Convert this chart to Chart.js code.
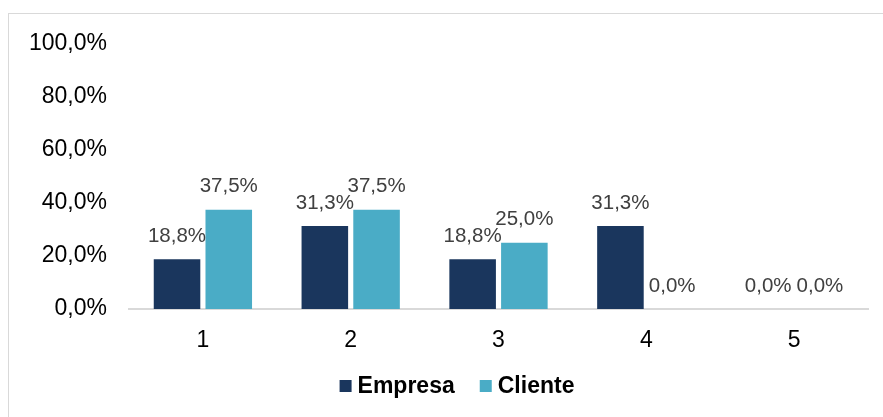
<!DOCTYPE html>
<html>
<head>
<meta charset="utf-8">
<script src="https://cdn.jsdelivr.net/npm/chart.js@4.4.1/dist/chart.umd.min.js"></script>
<style>
  html, body { margin: 0; padding: 0; background: #fff; overflow: hidden; }
  #wrap { position: relative; width: 883px; height: 417px; }
  #frame { position: absolute; left: 8px; top: 13px; width: 900px; height: 420px; border: 1px solid #d9d9d9; box-sizing: border-box; }
  canvas { position: absolute; left: 0; top: 0; }
</style>
</head>
<body>
<div id="wrap">
  <div id="frame"></div>
  <canvas id="chart" width="883" height="417"></canvas>
</div>
<script>
// 数据
const categorias = ['1', '2', '3', '4', '5'];
const empresa = [18.8, 31.3, 18.8, 31.3, 0.0];
const cliente = [37.5, 37.5, 25.0, 0.0, 0.0];
const yTicks = [0, 20, 40, 60, 80, 100];

const FONT = "'Liberation Sans', Arial, sans-serif";

function pct(v) {
  return v.toFixed(1).replace('.', ',') + '%';
}

// 柱顶数值标签
const valueLabels = {
  id: 'valueLabels',
  afterDatasetsDraw(chart) {
    const ctx = chart.ctx;
    ctx.save();
    ctx.font = '20.5px ' + FONT;
    ctx.fillStyle = '#404040';
    ctx.textAlign = 'center';
    ctx.textBaseline = 'middle';
    chart.data.datasets.forEach((ds, i) => {
      chart.getDatasetMeta(i).data.forEach((bar, j) => {
        ctx.fillText(pct(ds.data[j]), bar.x, bar.y - 23);
      });
    });
    ctx.restore();
  }
};

// 底部图例（居中于外框）
const bottomLegend = {
  id: 'bottomLegend',
  afterDraw(chart) {
    const ctx = chart.ctx;
    const box = 12, gapText = 6, gapItem = 25, cy = 386, center = 457;
    ctx.save();
    ctx.font = 'bold 23px ' + FONT;
    ctx.textBaseline = 'middle';
    const items = chart.data.datasets.map(ds => ({
      text: ds.label, color: ds.backgroundColor, w: ctx.measureText(ds.label).width
    }));
    const total = items.reduce((s, it) => s + box + gapText + it.w, 0) + gapItem * (items.length - 1);
    let x = center - total / 2;
    items.forEach(it => {
      ctx.fillStyle = it.color;
      ctx.fillRect(x, cy - box / 2, box, box);
      x += box + gapText;
      ctx.fillStyle = '#000';
      ctx.fillText(it.text, x, cy + 1);
      x += it.w + gapItem;
    });
    ctx.restore();
  }
};

new Chart(document.getElementById('chart').getContext('2d'), {
  type: 'bar',
  data: {
    labels: categorias,
    datasets: [
      { label: 'Empresa', data: empresa, backgroundColor: '#1a365d' },
      { label: 'Cliente', data: cliente, backgroundColor: '#4aacc6' }
    ]
  },
  options: {
    responsive: false,
    animation: false,
    events: [],
    layout: { padding: { top: 44, right: 15, left: 0, bottom: 58 } },
    datasets: {
      bar: { categoryPercentage: 0.7, barPercentage: 0.9 }
    },
    scales: {
      x: {
        grid: { display: false },
        border: { display: true, color: '#d9d9d9', width: 2 },
        ticks: { color: '#000', font: { family: FONT, size: 23 }, padding: 10 },
        afterFit: s => { s.height = 50; }
      },
      y: {
        min: 0,
        max: 100,
        afterBuildTicks: s => { s.ticks = yTicks.map(v => ({ value: v })); },
        grid: { display: false },
        border: { display: false },
        ticks: {
          color: '#000',
          font: { family: FONT, size: 23 },
          padding: 14,
          callback: v => pct(v)
        },
        afterFit: s => { s.width = 129; }
      }
    },
    plugins: {
      legend: { display: false },
      tooltip: { enabled: false }
    }
  },
  plugins: [valueLabels, bottomLegend]
});
</script>
</body>
</html>
